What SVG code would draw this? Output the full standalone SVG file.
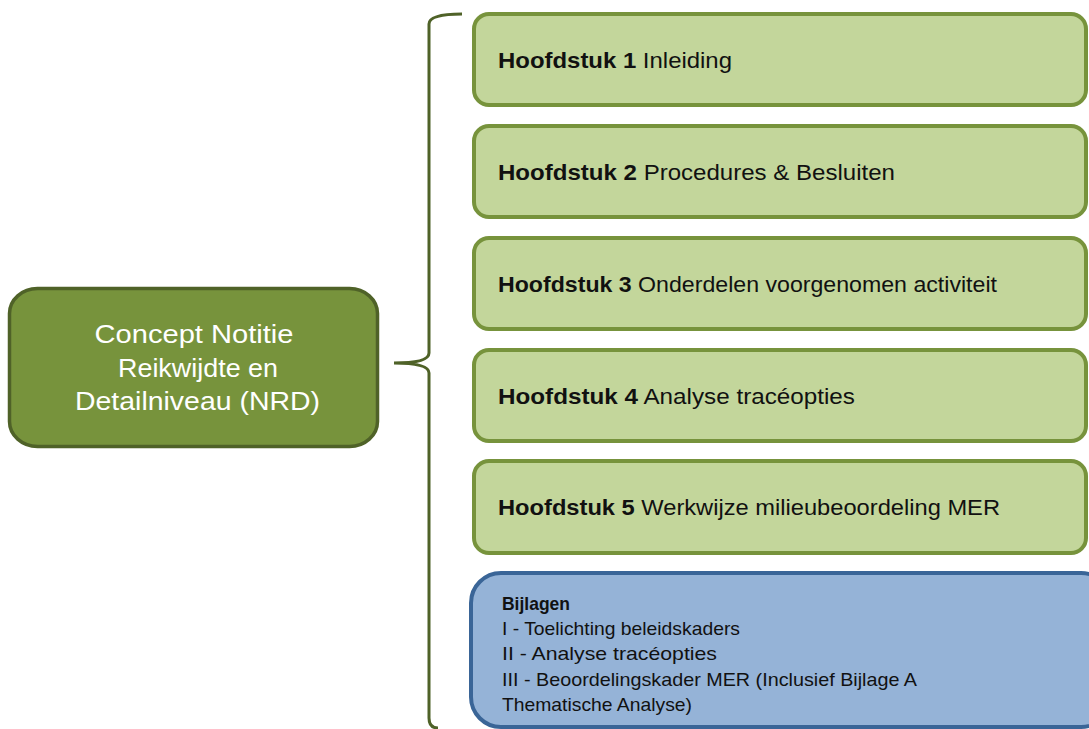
<svg xmlns="http://www.w3.org/2000/svg" width="1089" height="729" viewBox="0 0 1089 729">
<style>
.g{fill:#c3d69b;stroke:#77933c;stroke-width:4}
.b{fill:#95b3d7;stroke:#3a6597;stroke-width:4}
.t{font-family:"Liberation Sans",Arial,sans-serif;font-size:22px;fill:#111}
.s{font-family:"Liberation Sans",Arial,sans-serif;font-size:19px;fill:#111}
.w{font-family:"Liberation Sans",Arial,sans-serif;font-size:26px;fill:#fff;text-anchor:middle}
.bd{font-weight:bold}
</style>
<rect width="1089" height="729" fill="#fff"/>
<g id="connectors">
<path d="M462 14 Q429 14 429 24 L429 353 Q429 363 394 363 Q429 363 429 373 L429 718 Q429 728 438 728" fill="none" stroke="#4f6228" stroke-width="3"/>
</g>
<g id="nrd">
<rect x="9.5" y="288.5" width="368" height="158" rx="28" ry="25" fill="#77933c" stroke="#4f6228" stroke-width="3.5"/>
<text class="w" x="194" y="343" textLength="199" lengthAdjust="spacingAndGlyphs">Concept Notitie</text>
<text class="w" x="198" y="377" textLength="160" lengthAdjust="spacingAndGlyphs">Reikwijdte  en</text>
<text class="w" x="197.5" y="410" textLength="245" lengthAdjust="spacingAndGlyphs">Detailniveau  (NRD)</text>
</g>
<g id="h1">
<rect class="g" x="474" y="14" width="612" height="91" rx="15"/>
<text class="t" x="498" y="67.5" textLength="234" lengthAdjust="spacingAndGlyphs"><tspan class="bd">Hoofdstuk 1</tspan> Inleiding</text>
</g>
<g id="h2">
<rect class="g" x="474" y="126" width="612" height="91" rx="15"/>
<text class="t" x="498" y="179.5" textLength="397" lengthAdjust="spacingAndGlyphs"><tspan class="bd">Hoofdstuk 2</tspan> Procedures &amp; Besluiten</text>
</g>
<g id="h3">
<rect class="g" x="474" y="238" width="612" height="91" rx="15"/>
<text class="t" x="498" y="291.5" textLength="499" lengthAdjust="spacingAndGlyphs"><tspan class="bd">Hoofdstuk 3</tspan> Onderdelen voorgenomen activiteit</text>
</g>
<g id="h4">
<rect class="g" x="474" y="350" width="612" height="91" rx="15"/>
<text class="t" x="498" y="403.5" textLength="357" lengthAdjust="spacingAndGlyphs"><tspan class="bd">Hoofdstuk 4</tspan> Analyse tracéopties</text>
</g>
<g id="h5">
<rect class="g" x="474" y="461" width="612" height="92" rx="15"/>
<text class="t" x="498" y="515" textLength="502" lengthAdjust="spacingAndGlyphs"><tspan class="bd">Hoofdstuk 5</tspan> Werkwijze milieubeoordeling MER</text>
</g>
<g id="bijlagen">
<rect class="b" x="471" y="573" width="640" height="154" rx="30"/>
<text class="s bd" x="502" y="610" textLength="68" lengthAdjust="spacingAndGlyphs">Bijlagen</text>
<text class="s" x="502" y="635" textLength="238" lengthAdjust="spacingAndGlyphs">I - Toelichting  beleidskaders</text>
<text class="s" x="502" y="660" textLength="215" lengthAdjust="spacingAndGlyphs">II - Analyse  tracéopties</text>
<text class="s" x="502" y="686" textLength="415" lengthAdjust="spacingAndGlyphs">III - Beoordelingskader  MER  (Inclusief Bijlage  A</text>
<text class="s" x="502" y="711" textLength="190" lengthAdjust="spacingAndGlyphs">Thematische  Analyse)</text>
</g>
</svg>
